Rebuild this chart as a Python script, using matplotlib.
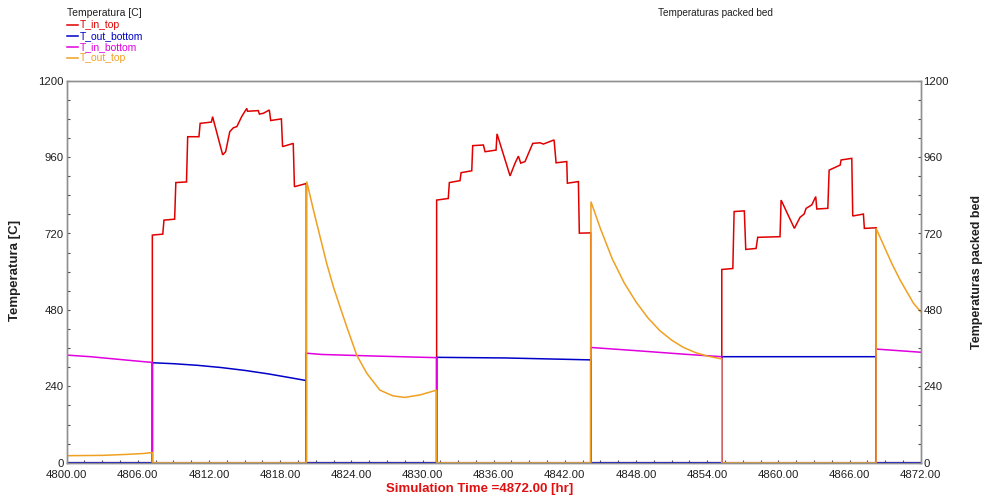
import numpy as np
import matplotlib
matplotlib.use("Agg")
from matplotlib import pyplot as plt
from matplotlib.lines import Line2D
from matplotlib.ticker import MultipleLocator, FormatStrFormatter

plt.rcParams['font.family'] = ['Liberation Sans', 'DejaVu Sans']

# (time [hr], temperature [C])
t_in_top = [
    (4800, 0), (4807.22, 0), (4807.22, 715), (4808.1, 718), (4808.2, 762), (4809.1, 765),
    (4809.2, 880), (4810.1, 882), (4810.2, 1024), (4811.15, 1024), (4811.25, 1066),
    (4812.2, 1070), (4812.3, 1087), (4813.15, 967), (4813.4, 977), (4813.75, 1040),
    (4814.05, 1052), (4814.35, 1056), (4814.75, 1087), (4815.18, 1113), (4815.25, 1104),
    (4816.15, 1106), (4816.25, 1095), (4816.6, 1098), (4817.08, 1108), (4817.2, 1075),
    (4818.1, 1080), (4818.2, 993), (4819.1, 1003), (4819.2, 867), (4820.2, 877),
    (4820.2, 0), (4831.19, 0), (4831.19, 825), (4832.17, 830), (4832.26, 880),
    (4833.16, 886), (4833.25, 911), (4834.15, 917), (4834.23, 996), (4835.13, 998),
    (4835.27, 977), (4836.2, 982), (4836.28, 1033), (4837.38, 901), (4837.8, 941),
    (4838.08, 963), (4838.28, 941), (4838.64, 946), (4839.29, 1003), (4839.9, 1005),
    (4840.19, 1001), (4841.09, 1014), (4841.26, 942), (4842.16, 946), (4842.21, 878),
    (4843.14, 883), (4843.22, 721), (4844.18, 722), (4844.18, 0), (4855.23, 0),
    (4855.23, 607), (4856.16, 610), (4856.27, 789), (4857.13, 791), (4857.25, 670),
    (4858.12, 673), (4858.26, 708), (4860.14, 710), (4860.23, 825), (4861.35, 736),
    (4861.83, 771), (4862.17, 781), (4862.34, 799), (4862.82, 810), (4863.15, 836),
    (4863.24, 797), (4864.17, 799), (4864.28, 919), (4865.21, 935), (4865.29, 951),
    (4866.19, 956), (4866.27, 775), (4867.17, 781), (4867.25, 736), (4868.24, 738),
    (4868.24, 0), (4872, 0),
]

t_out_bottom = [
    (4800, 0), (4807.22, 0), (4807.22, 314), (4809, 311), (4811, 306), (4813, 299),
    (4815, 290), (4817, 279), (4819, 266), (4820.2, 258), (4820.2, 0), (4831.19, 0),
    (4831.19, 331), (4837, 329), (4844.18, 323), (4844.18, 0), (4855.23, 0),
    (4855.23, 333), (4868.24, 333), (4868.24, 0), (4872, 0),
]

t_in_bottom = [
    (4800, 0), (4800, 338), (4802, 333), (4804, 326), (4806, 319), (4807.22, 315),
    (4807.22, 0), (4820.2, 0), (4820.2, 344), (4821.5, 340), (4826, 335), (4831.19, 330),
    (4831.19, 0), (4844.18, 0), (4844.18, 362), (4848, 352), (4852, 341), (4855.23, 333),
    (4855.23, 0), (4868.24, 0), (4868.24, 357), (4872, 347),
]

t_out_top = [
    (4800, 0), (4800, 22), (4803, 23), (4805, 26), (4806.5, 29), (4807.22, 32),
    (4807.22, 0), (4820.2, 0), (4820.24, 883), (4820.8, 794), (4821.36, 710),
    (4821.92, 626), (4822.48, 553), (4823.04, 490), (4823.61, 427), (4824.45, 338),
    (4825.3, 281), (4826.4, 228), (4827.5, 210), (4828.5, 205), (4829.8, 213),
    (4831.19, 228), (4831.19, 0), (4844.18, 0), (4844.2, 820), (4845, 735), (4846, 640),
    (4847, 565), (4848, 505), (4849, 455), (4850, 415), (4851, 385), (4852, 362),
    (4853, 346), (4854, 335), (4855.23, 326), (4855.23, 0), (4868.24, 0),
    (4868.24, 736), (4869.56, 626), (4870.26, 574), (4871.39, 501), (4872, 474),
]

names = ['T_in_top', 'T_out_bottom', 'T_in_bottom', 'T_out_top']
colors = ['#e00000', '#0000c8', '#e000e0', '#f0a020']
series = [t_in_top, t_out_bottom, t_in_bottom, t_out_top]

W, H = 986, 500
fig = plt.figure(figsize=(W / 100, H / 100), dpi=100)
x0, x1, y0, y1 = 66.7, 920.7, 80.7, 462.7
ax = fig.add_axes([x0 / W, 1 - y1 / H, (x1 - x0) / W, (y1 - y0) / H])

for s, c in zip(series, colors):
    a = np.array(s)
    ax.plot(a[:, 0], a[:, 1], color=c, lw=1.1, solid_joinstyle='miter')

ax.set_xlim(4800, 4872)
ax.set_ylim(0, 1200)
ax.xaxis.set_major_locator(MultipleLocator(6))
ax.xaxis.set_minor_locator(MultipleLocator(1.5))
ax.xaxis.set_major_formatter(FormatStrFormatter('%.2f'))
ax.yaxis.set_major_locator(MultipleLocator(240))
ax.yaxis.set_minor_locator(MultipleLocator(60))

ax2 = ax.twinx()
ax2.set_ylim(0, 1200)
ax2.yaxis.set_major_locator(MultipleLocator(240))
ax2.yaxis.set_minor_locator(MultipleLocator(60))

for a in (ax, ax2):
    for sp in a.spines.values():
        sp.set_color('#909090')
        sp.set_linewidth(1.0)
    a.tick_params(which='both', direction='in', length=2.5, width=0.8, color='#505050',
                  labelsize=8.2, labelcolor='#202020', pad=2)
ax.tick_params(axis='x', pad=5)

fig.text(15 / W, 1 - 270 / H, 'Temperatura [C]', rotation=90, ha='center', va='center',
         fontsize=9.5, fontweight='bold', color='#202020')
fig.text(977 / W, 1 - 272 / H, 'Temperaturas packed bed', rotation=90, ha='center',
         va='center', fontsize=9, fontweight='bold', color='#202020')
fig.text(480 / W, 1 - 489 / H, 'Simulation Time =4872.00 [hr]', ha='center', va='center',
         fontsize=9.5, fontweight='bold', color='#e01010')
fig.text(715 / W, 1 - 13 / H, 'Temperaturas packed bed', ha='center', va='center',
         fontsize=7.2, color='#202020')

# legend block top-left
fig.text(67 / W, 1 - 13 / H, 'Temperatura [C]', ha='left', va='center', fontsize=7.5,
         color='#202020')
for i, (n, c) in enumerate(zip(names, colors)):
    yy = 1 - (25 + 11 * i) / H
    fig.add_artist(Line2D([67 / W, 78 / W], [yy, yy], color=c, lw=1.1))
    fig.text(80 / W, yy, n, ha='left', va='center', fontsize=7.5, color=c)

fig.savefig('out.png', dpi=100)
